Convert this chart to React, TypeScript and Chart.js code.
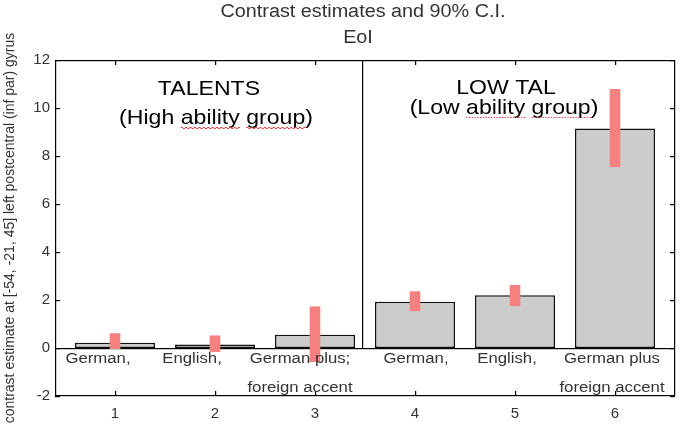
import React, { useEffect, useRef } from 'react';
import { Chart, registerables, Plugin } from 'chart.js';

Chart.register(...registerables);

// bar positions and tick labels
const positions = [1, 2, 3, 4, 5, 6];
const xTickLabels = ['1', '2', '3', '4', '5', '6'];
const yTicks = [-2, 0, 2, 4, 6, 8, 10, 12];

// contrast estimates
const estimates = [0.22, 0.15, 0.55, 1.93, 2.2, 9.15];
// 90% confidence interval bounds
const ciLow = [-0.03, -0.15, -0.57, 1.55, 1.76, 7.55];
const ciHigh = [0.6, 0.51, 1.72, 2.35, 2.61, 10.78];

// condition labels written under each bar (one or two lines)
const conditionLabels = [
  ['German,'],
  ['English,'],
  ['German plus;', 'foreign accent'],
  ['German,'],
  ['English,'],
  ['German plus', 'foreign accent'],
];
// where the labels were placed on the x axis
const conditionLabelX = [0.83, 1.77, 2.85, 4.01, 4.92, 5.97];

const FONT = "Arial, 'Liberation Sans', sans-serif";
// the original figure is slightly stretched sideways
const STRETCH = 1.1;

type Underline = { words: string[]; wavy: boolean };

const drawText = (
  ctx: CanvasRenderingContext2D,
  text: string,
  cx: number,
  cy: number,
  size: number,
  color: string,
  sx = STRETCH,
  underline?: Underline
) => {
  ctx.save();
  ctx.translate(cx, cy);
  ctx.scale(sx, 1);
  ctx.font = `${size}px ${FONT}`;
  ctx.fillStyle = color;
  ctx.textAlign = 'center';
  ctx.textBaseline = 'middle';
  ctx.fillText(text, 0, 0);
  if (underline) {
    const full = ctx.measureText(text).width;
    const uy = Math.round(size * 0.45);
    ctx.fillStyle = '#ee3b3b';
    underline.words.forEach((word) => {
      const start = -full / 2 + ctx.measureText(text.slice(0, text.indexOf(word))).width;
      const w = ctx.measureText(word).width;
      if (underline.wavy) {
        // small zig-zag squiggle
        for (let p = 0; p < w; p += 2) {
          ctx.fillRect(start + p, uy + ((p / 2) % 2 === 0 ? 0 : 1), 2, 1);
        }
      } else {
        // dotted line
        for (let p = 0; p < w; p += 2.5) {
          ctx.fillRect(start + p, uy, 1.2, 1);
        }
      }
    });
  }
  ctx.restore();
};

const decorations: Plugin<'bar'> = {
  id: 'decorations',
  beforeDatasetsDraw(chart) {
    const { ctx } = chart;
    const x = chart.scales.x;
    const y = chart.scales.y;
    const left = Math.round(x.getPixelForValue(0.4));
    const right = Math.round(x.getPixelForValue(6.6));
    const top = Math.round(y.getPixelForValue(12));
    const bottom = Math.round(y.getPixelForValue(-2));
    const zy = Math.round(y.getPixelForValue(0));
    const dx = Math.round(x.getPixelForValue(3.47));
    const tl = 5;
    ctx.save();
    ctx.fillStyle = '#000';
    // box around plot
    ctx.fillRect(left, top, right - left, 1.2);
    ctx.fillRect(left, bottom - 1, right - left, 1.2);
    ctx.fillRect(left, top, 1.2, bottom - top);
    ctx.fillRect(right - 1, top, 1.2, bottom - top);
    // zero line and group divider
    ctx.fillRect(left, zy, right - left, 1.2);
    ctx.fillRect(dx, top, 1.2, zy - top);
    // inward ticks on all sides
    yTicks.forEach((v) => {
      const py = Math.round(y.getPixelForValue(v));
      ctx.fillRect(left, py, tl, 1.2);
      ctx.fillRect(right - tl, py, tl, 1.2);
    });
    positions.forEach((v) => {
      const px = Math.round(x.getPixelForValue(v));
      ctx.fillRect(px, top, 1.2, tl);
      ctx.fillRect(px, bottom - tl, 1.2, tl);
    });
    ctx.restore();
  },
  afterDraw(chart) {
    const { ctx } = chart;
    const x = chart.scales.x;
    const y = chart.scales.y;

    // condition labels
    conditionLabels.forEach((lines, i) => {
      const px = x.getPixelForValue(conditionLabelX[i]);
      lines.forEach((line, j) => {
        drawText(ctx, line, px, y.getPixelForValue(0) + 11 + j * 29, 15.5, '#333', 1.08);
      });
    });

    // group annotations
    drawText(ctx, 'TALENTS', 209, 89, 21, '#000');
    drawText(ctx, '(High ability group)', 216, 118, 21, '#000', STRETCH, {
      words: ['ability', 'group'],
      wavy: true,
    });
    drawText(ctx, 'LOW TAL', 506, 88, 21, '#000');
    drawText(ctx, '(Low ability group)', 504, 108, 21, '#000', STRETCH, {
      words: ['ability', 'group'],
      wavy: false,
    });

    // title
    drawText(ctx, 'Contrast estimates and 90% C.I.', 363, 12, 18, '#333');
    drawText(ctx, 'EoI', 358, 38, 18, '#333');
  },
};

const App: React.FC = () => {
  const canvasRef = useRef<HTMLCanvasElement>(null);

  useEffect(() => {
    if (!canvasRef.current) return;
    const chart = new Chart(canvasRef.current, {
      type: 'bar',
      data: {
        datasets: [
          {
            label: '90% C.I.',
            data: positions.map((p, i) => ({ x: p, y: [ciLow[i], ciHigh[i]] })) as any,
            backgroundColor: '#f48080',
            borderWidth: 0,
            barThickness: 10,
            grouped: false,
            order: 0,
          },
          {
            label: 'Contrast estimate',
            data: positions.map((p, i) => ({ x: p, y: estimates[i] })) as any,
            backgroundColor: '#cccccc',
            borderColor: '#111',
            borderWidth: 1.5,
            borderSkipped: false,
            barPercentage: 0.8,
            categoryPercentage: 1,
            grouped: false,
            order: 1,
          },
        ],
      },
      options: {
        responsive: false,
        animation: false,
        layout: { padding: { top: 60, right: 5, left: 0, bottom: 0 } },
        plugins: {
          legend: { display: false },
          tooltip: { enabled: false },
        },
        scales: {
          x: {
            type: 'linear',
            min: 0.4,
            max: 6.6,
            offset: false,
            afterBuildTicks: (s) => {
              s.ticks = positions.map((v) => ({ value: v }));
            },
            afterFit: (s) => {
              s.height = 32;
            },
            grid: { display: false, drawTicks: false },
            border: { display: false },
            ticks: {
              color: '#333',
              font: { family: FONT, size: 15 },
              padding: 9,
              callback: (v) => xTickLabels[positions.indexOf(Number(v))] ?? '',
            },
          },
          y: {
            min: -2,
            max: 12,
            afterBuildTicks: (s) => {
              s.ticks = yTicks.map((v) => ({ value: v }));
            },
            afterFit: (s) => {
              s.width = 55;
            },
            grid: { display: false, drawTicks: false },
            border: { display: false },
            ticks: {
              color: '#333',
              font: { family: FONT, size: 15 },
              padding: 5,
            },
            title: {
              display: true,
              text: 'contrast estimate at [-54, -21, 45] left postcentral (inf par) gyrus',
              color: '#333',
              font: { family: FONT, size: 14 },
              padding: { top: 2, bottom: 0 },
            },
          },
        },
      },
      plugins: [decorations],
    });
    return () => chart.destroy();
  }, []);

  return (
    <div style={{ position: 'absolute', left: 0, top: 0, width: 680, height: 428, background: '#fff' }}>
      <canvas ref={canvasRef} width={680} height={428} />
    </div>
  );
};

export default App;
